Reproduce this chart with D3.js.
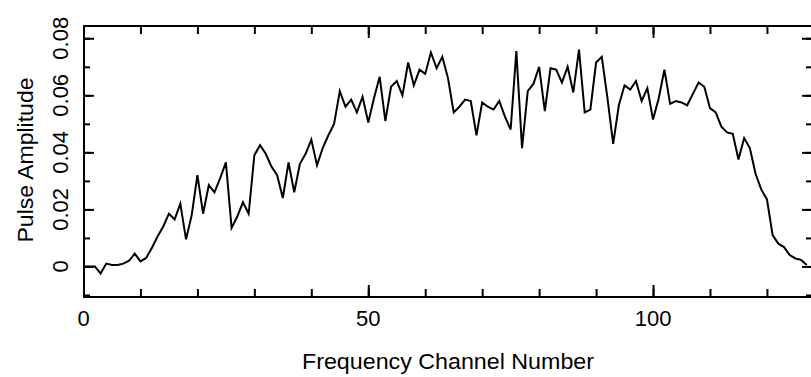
<!DOCTYPE html>
<html>
<head>
<meta charset="utf-8">
<script src="https://cdn.jsdelivr.net/npm/d3@7"></script>
<style>
  html, body { margin: 0; padding: 0; background: #fff; }
  svg { display: block; }
  text { font-family: "Liberation Sans", Arial, sans-serif; fill: #000; }
</style>
</head>
<body>
<svg id="chart" width="811" height="377"></svg>
<script>
// Pulse amplitude per frequency channel (channels 0..127)
const amplitude = [
  0.0000, 0.0000, 0.0000, -0.0025, 0.0010, 0.0005, 0.0005, 0.0010, 0.0020, 0.0045,
  0.0018, 0.0030, 0.0065, 0.0105, 0.0140, 0.0185, 0.0165, 0.0220, 0.0095, 0.0180,
  0.0320, 0.0185, 0.0285, 0.0260, 0.0310, 0.0365, 0.0135, 0.0175, 0.0225, 0.0185,
  0.0390, 0.0425, 0.0395, 0.0350, 0.0320, 0.0240, 0.0365, 0.0260, 0.0360, 0.0395,
  0.0445, 0.0355, 0.0415, 0.0460, 0.0500, 0.0615, 0.0560, 0.0585, 0.0540, 0.0595,
  0.0505, 0.0590, 0.0665, 0.0510, 0.0630, 0.0650, 0.0600, 0.0715, 0.0635, 0.0690,
  0.0675, 0.0750, 0.0695, 0.0735, 0.0660, 0.0540, 0.0560, 0.0585, 0.0580, 0.0460,
  0.0575, 0.0560, 0.0550, 0.0580, 0.0525, 0.0480, 0.0755, 0.0415, 0.0615, 0.0640,
  0.0700, 0.0545, 0.0695, 0.0690, 0.0645, 0.0700, 0.0610, 0.0760, 0.0540, 0.0550,
  0.0715, 0.0735, 0.0590, 0.0430, 0.0565, 0.0635, 0.0620, 0.0650, 0.0580, 0.0625,
  0.0515, 0.0590, 0.0690, 0.0570, 0.0580, 0.0575, 0.0565, 0.0605, 0.0645, 0.0630,
  0.0555, 0.0540, 0.0490, 0.0470, 0.0465, 0.0375, 0.0450, 0.0415, 0.0325, 0.0270,
  0.0235, 0.0110, 0.0080, 0.0068, 0.0040, 0.0028, 0.0023, 0.0005
];
const channels = amplitude.map((_, i) => i);

// Axis ticks and labels
const xMajorTicks = [0, 50, 100];
const xMinorTicks = [0, 10, 20, 30, 40, 50, 60, 70, 80, 90, 100, 110, 120];
const yMajorTicks = [0, 0.02, 0.04, 0.06, 0.08];
const yMinorTicks = [-0.01, 0, 0.01, 0.02, 0.03, 0.04, 0.05, 0.06, 0.07, 0.08];
const yTickLabels = ["0", "0.02", "0.04", "0.06", "0.08"];
const xTitle = "Frequency Channel Number";
const yTitle = "Pulse Amplitude";

const plotLeft = 84, plotRight = 812, plotTop = 26, plotBottom = 297;

const svg = d3.select("#chart");
svg.append("rect").attr("width", 811).attr("height", 377).attr("fill", "#fff");

const x = d3.scaleLinear().domain([0, 128]).range([plotLeft - 0.5, plotRight + 0.5]);
const y = d3.scaleLinear().domain([-0.0106, 0.0843]).range([plotBottom - 0.3, plotTop]);

// Box around the plot
svg.append("rect")
  .attr("x", plotLeft).attr("y", plotTop)
  .attr("width", plotRight - plotLeft).attr("height", plotBottom - plotTop)
  .attr("fill", "none").attr("stroke", "#000").attr("stroke-width", 2);

function tickLayer(axis, tx, ty) {
  const g = svg.append("g").attr("transform", `translate(${tx},${ty})`).call(axis);
  g.select(".domain").remove();
  g.selectAll("line").attr("stroke", "#000").attr("stroke-width", 2);
  g.selectAll("text").remove();
  return g;
}

// Inward ticks on all four sides
tickLayer(d3.axisBottom(x).tickValues(xMinorTicks).tickSize(-8).tickFormat(""), 0, plotBottom);
tickLayer(d3.axisBottom(x).tickValues(xMajorTicks).tickSize(-12).tickFormat(""), 0, plotBottom);
tickLayer(d3.axisTop(x).tickValues(xMinorTicks).tickSize(-8).tickFormat(""), 0, plotTop);
tickLayer(d3.axisTop(x).tickValues(xMajorTicks).tickSize(-12).tickFormat(""), 0, plotTop);
tickLayer(d3.axisLeft(y).tickValues(yMinorTicks).tickSize(-6).tickFormat(""), plotLeft, 0);
tickLayer(d3.axisLeft(y).tickValues(yMajorTicks).tickSize(-10).tickFormat(""), plotLeft, 0);
tickLayer(d3.axisRight(y).tickValues(yMinorTicks).tickSize(-6).tickFormat(""), plotRight, 0);
tickLayer(d3.axisRight(y).tickValues(yMajorTicks).tickSize(-10).tickFormat(""), plotRight, 0);

// Tick labels
svg.append("g").selectAll("text").data(xMajorTicks).join("text")
  .attr("x", d => x(d)).attr("y", 326)
  .attr("text-anchor", "middle").attr("font-size", 22)
  .text(d => String(d));

svg.append("g").selectAll("text").data(yMajorTicks).join("text")
  .attr("transform", d => `translate(68,${y(d)}) rotate(-90)`)
  .attr("text-anchor", "middle").attr("font-size", 22)
  .text((d, i) => yTickLabels[i]);

// Axis titles
svg.append("text")
  .attr("x", 448).attr("y", 369)
  .attr("text-anchor", "middle").attr("font-size", 22)
  .attr("textLength", 292).attr("lengthAdjust", "spacingAndGlyphs")
  .text(xTitle);

svg.append("text")
  .attr("transform", `translate(33,160) rotate(-90)`)
  .attr("text-anchor", "middle").attr("font-size", 22)
  .attr("textLength", 165).attr("lengthAdjust", "spacingAndGlyphs")
  .text(yTitle);

// Amplitude trace
const line = d3.line()
  .x((d, i) => x(channels[i]))
  .y(d => y(d));

svg.append("path")
  .datum(amplitude)
  .attr("d", line)
  .attr("fill", "none")
  .attr("stroke", "#000")
  .attr("stroke-width", 2)
  .attr("stroke-linejoin", "miter");
</script>
</body>
</html>
